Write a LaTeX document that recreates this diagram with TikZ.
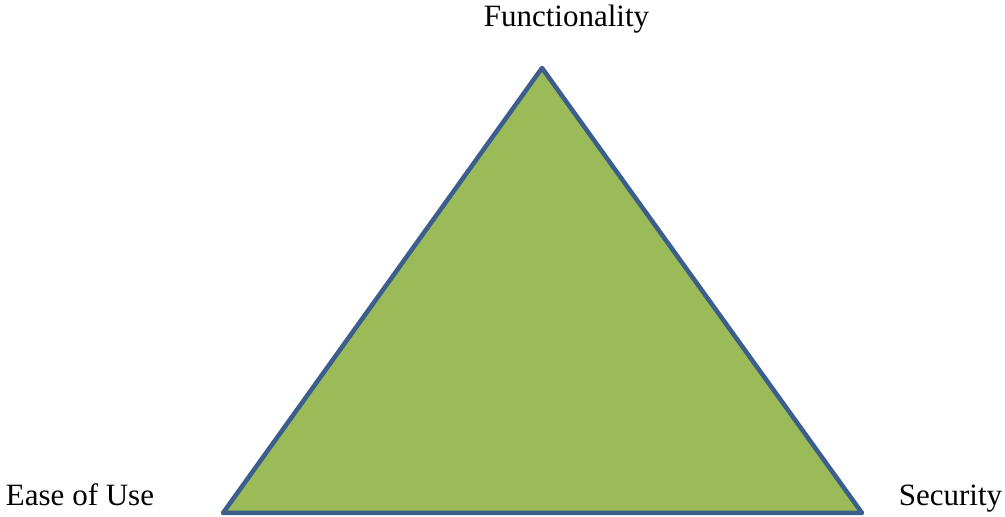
\documentclass[tikz,border=0pt]{standalone}
\usepackage{fontspec}
\setmainfont{Liberation Serif}
\definecolor{trifill}{HTML}{9BBB59}
\definecolor{triline}{HTML}{3B5E8C}
\begin{document}
\begin{tikzpicture}[x=1pt,y=1pt,
  lbl/.style={font=\fontsize{31}{37}\selectfont, inner sep=0pt, anchor=base}]
\useasboundingbox (0,0) rectangle (1005,517);
\coordinate (top) at (542,449);
\coordinate (bl) at (223,4);
\coordinate (br) at (862,4);
\filldraw[fill=trifill, draw=triline, line width=4.5pt, line join=round] (top) -- (bl) -- (br) -- cycle;
\node[lbl] (f) at (566.5,490) {Functionality};
\node[lbl] (e) at (80,11) {Ease of Use};
\node[lbl] (s) at (950.5,11) {Security};
\end{tikzpicture}
\end{document}
